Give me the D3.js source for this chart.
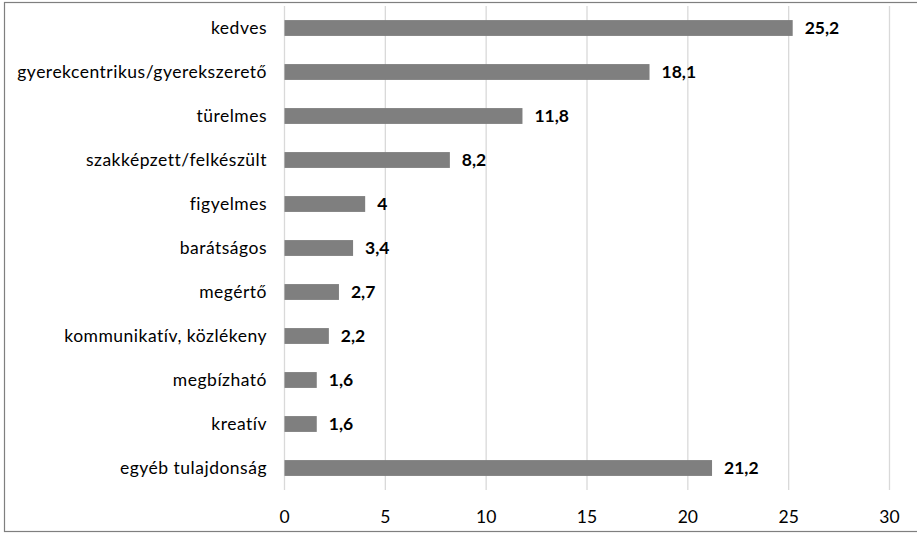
<!DOCTYPE html>
<html><head><meta charset="utf-8">
<script src="https://cdn.jsdelivr.net/npm/d3@7"></script>
<style>body{margin:0;background:#fff}svg{display:block}text{font-family:Lato,"Open Sans",sans-serif}</style>
</head><body>
<svg id="c" width="917" height="533"></svg>
<script>
const categories = ["kedves","gyerekcentrikus/gyerekszerető","türelmes","szakképzett/felkészült","figyelmes","barátságos","megértő","kommunikatív, közlékeny","megbízható","kreatív","egyéb tulajdonság"];
const values = [25.2,18.1,11.8,8.2,4,3.4,2.7,2.2,1.6,1.6,21.2];
const valueLabels = ["25,2","18,1","11,8","8,2","4","3,4","2,7","2,2","1,6","1,6","21,2"];
const ticks = [0,5,10,15,20,25,30];

const svg = d3.select("#c");
svg.append("rect").attr("x",4.5).attr("y",2.5).attr("width",930).attr("height",529)
  .attr("fill","none").attr("stroke","#7f7f7f").attr("stroke-width",1.2);

const x = d3.scaleLinear().domain([0,30]).range([284.5,889.5]);
const y = d3.scaleBand().domain(categories).range([6,490]).paddingInner(0.64).paddingOuter(0.32);

svg.append("g").selectAll("line").data(ticks).join("line")
  .attr("x1",d=>x(d)).attr("x2",d=>x(d)).attr("y1",6).attr("y2",490)
  .attr("stroke","#d9d9d9").attr("stroke-width",1.3);

svg.append("g").selectAll("rect").data(values).join("rect")
  .attr("x",x(0)).attr("y",(d,i)=>y(categories[i]))
  .attr("width",d=>x(d)-x(0)).attr("height",y.bandwidth())
  .attr("fill","#7f7f7f");

const fs = 17.5;
svg.append("g").selectAll("text").data(values).join("text")
  .attr("x",d=>x(d)+12).attr("y",(d,i)=>y(categories[i])+y.bandwidth()/2)
  .attr("dy","0.35em").attr("font-size",fs).attr("font-weight","bold").attr("fill","#000")
  .text((d,i)=>valueLabels[i]);

svg.append("g").selectAll("text").data(categories).join("text")
  .attr("x",267).attr("y",d=>y(d)+y.bandwidth()/2).attr("dy","0.35em")
  .attr("text-anchor","end").attr("font-size",fs).attr("letter-spacing","0.5px")
  .attr("fill","#000").text(d=>d);

svg.append("g").selectAll("text").data(ticks).join("text")
  .attr("x",d=>x(d)).attr("y",517).attr("dy","0.35em").attr("text-anchor","middle")
  .attr("font-size",fs).attr("fill","#000").text(d=>d);
</script>
</body></html>
